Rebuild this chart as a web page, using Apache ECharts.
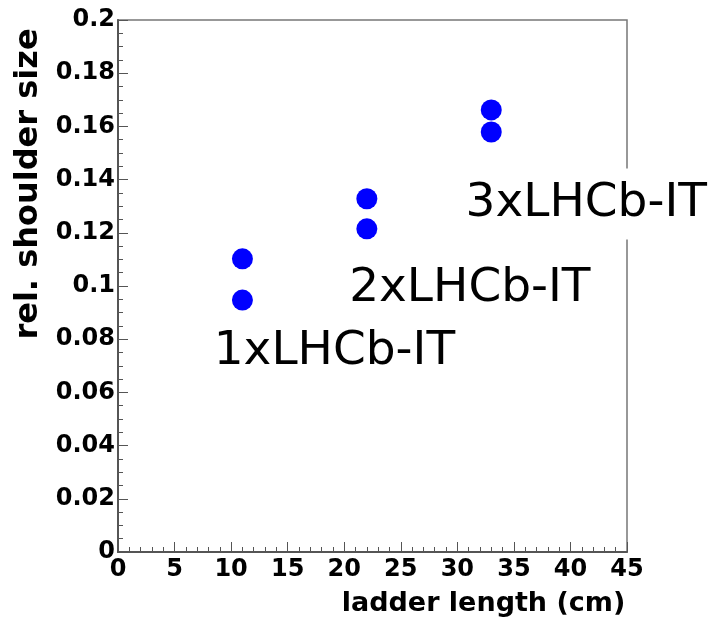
<!DOCTYPE html>
<html>
<head>
<meta charset="utf-8">
<script src="https://cdn.jsdelivr.net/npm/echarts@6/dist/echarts.min.js"></script>
<style>
  html, body { margin: 0; padding: 0; background: #fff; }
  #chart { width: 724px; height: 627px; }
</style>
</head>
<body>
<div id="chart"></div>
<script>
// 数据：每组两个点（上、下）
const groupNames = ['1xLHCb-IT', '2xLHCb-IT', '3xLHCb-IT'];
const ladderLength = [11, 22, 33];            // cm
const shoulderUpper = [0.1102, 0.1328, 0.1662];
const shoulderLower = [0.0947, 0.1215, 0.1579];

// 标注文字相对下方点的偏移（像素）
const labelOffsets = [[92, 52], [103, 60], [95, 72]];

const axisColor = '#555';
const tickFont = { fontFamily: 'DejaVu Sans', fontWeight: 'bold', fontSize: 24, color: '#000' };

let points = [];
ladderLength.forEach(function (x, i) {
    points.push({ value: [x, shoulderUpper[i]] });
    points.push({
        value: [x, shoulderLower[i]],
        label: {
            show: true,
            position: 'inside',
            offset: labelOffsets[i],
            formatter: groupNames[i],
            fontFamily: 'DejaVu Sans',
            fontSize: 47,
            color: '#000',
            opacity: 1,
            backgroundColor: '#fff',
            padding: [12, 14]
        }
    });
});

let myChart = echarts.init(document.getElementById('chart'));
let option = {
    backgroundColor: '#fff',
    animation: false,
    grid: {
        left: 118, right: 97, top: 20, bottom: 75,
        show: true,
        borderColor: '#777',
        borderWidth: 1.5
    },
    xAxis: {
        type: 'value',
        min: 0, max: 45, interval: 5,
        name: 'ladder length (cm)',
        nameLocation: 'middle',
        nameGap: 38,
        nameTextStyle: { fontFamily: 'DejaVu Sans', fontWeight: 'bold', fontSize: 27, color: '#000', padding: [0, 0, 0, 222] },
        axisLine: { show: true, lineStyle: { color: axisColor, width: 2 } },
        axisTick: { inside: true, length: 10, lineStyle: { color: axisColor } },
        minorTick: { show: true, splitNumber: 5, length: 5, lineStyle: { color: axisColor } },
        axisLabel: Object.assign({ margin: 6 }, tickFont),
        splitLine: { show: false }
    },
    yAxis: {
        type: 'value',
        min: 0, max: 0.2, interval: 0.02,
        name: 'rel. shoulder size',
        nameLocation: 'middle',
        nameGap: 72,
        nameTextStyle: { fontFamily: 'DejaVu Sans', fontWeight: 'bold', fontSize: 32, color: '#000', padding: [0, 0, 0, 204] },
        axisLine: { show: true, lineStyle: { color: axisColor, width: 2 } },
        axisTick: { inside: true, length: 10, lineStyle: { color: axisColor } },
        minorTick: { show: true, splitNumber: 4, length: 5, lineStyle: { color: axisColor } },
        axisLabel: Object.assign({ margin: 3 }, tickFont),
        splitLine: { show: false }
    },
    series: [
        {
            name: 'shoulder',
            type: 'scatter',
            symbol: 'circle',
            symbolSize: 21,
            itemStyle: { color: '#0000ff', opacity: 1 },
            data: points
        }
    ]
};
myChart.setOption(option, true);
</script>
</body>
</html>
